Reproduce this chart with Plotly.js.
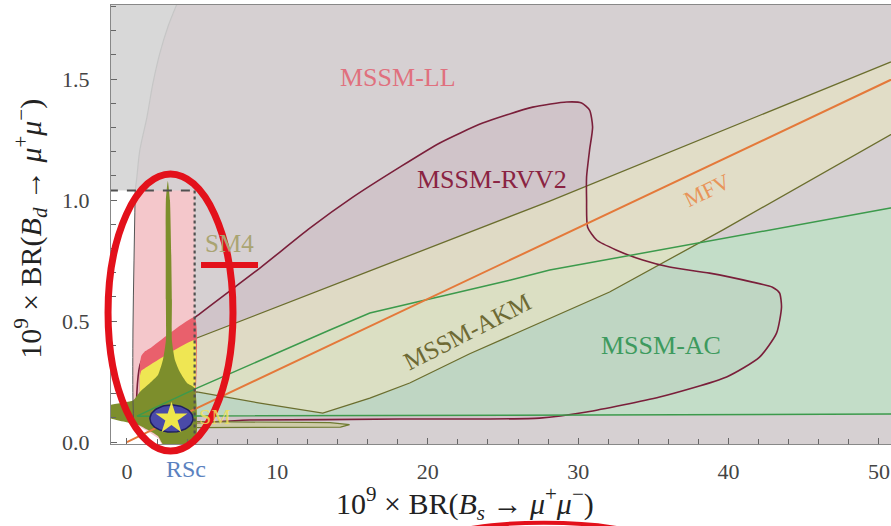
<!DOCTYPE html>
<html><head><meta charset="utf-8">
<script src="https://cdn.plot.ly/plotly-3.0.1.min.js"></script>
<style>body{margin:0;background:#fff}#plot{width:891px;height:526px}</style>
</head><body><div id="plot"></div>
<script>
// ---- data ----
// MSSM-LL boundary (left edge of the allowed LL region)
const llEdgeX = [3.39, 2.72, 2.19, 1.73, 1.33, 0.86, 0.66, 0.55, 0.47, 0.40, 0.40, 0.47, 0.50];
const llEdgeY = [1.82, 1.715, 1.607, 1.483, 1.343, 1.207, 1.095, 1.04, 0.752, 0.463, 0.174, 0.05, -0.02];
const llCornerX = [53, 53];
const llCornerY = [-0.02, 1.82];
// experimental bound box (BR_s < 4.5, BR_d < 1.04)
const boundX = [-1.2, 4.5, 4.5];
const boundY = [1.04, 1.04, -0.02];
const pinkX = [0.55, 4.5, 4.5, 0.40, 0.40, 0.47];
const pinkY = [1.04, 1.04, -0.02, -0.02, 0.463, 0.752];
const whiteX = [-1.2, -1.2, 0.55, 0.47, 0.40, 0.40, 0.8, 1.5, 2.1, 2.4];
const whiteY = [-0.02, 1.04, 1.04, 0.752, 0.463, 0.12, 0.065, 0.04, 0.015, -0.02];
// MSSM-RVV2
const rvv2X = [0.86,0.86,1.20,1.99,4.65,8.84,12.16,15.02,18.14,20.80,23.65,26.98,29.24,30.23,30.76,30.96,30.76,30.56,30.56,30.63,31.23,32.56,34.29,36.08,38.74,41.59,42.92,43.39,43.52,43.19,42.06,39.87,35.42,30.56,27.44,18.14,8.17,0.86];
const rvv2Y = [0.091,0.318,0.360,0.384,0.521,0.719,0.884,1.012,1.136,1.236,1.318,1.384,1.405,1.401,1.372,1.302,1.207,1.095,1.0,0.888,0.835,0.793,0.752,0.723,0.698,0.661,0.640,0.616,0.558,0.450,0.351,0.269,0.186,0.124,0.099,0.095,0.091,0.091];
// MSSM-AKM
const akmX = [0.86,1.0,1.33,4.65,16.15,28.11,50.76,53,53,50.76,39.60,32.09,22.79,18.80,16.15,13.02,8.84,4.65,0.86];
const akmY = [0.182,0.256,0.306,0.430,0.707,0.996,1.570,1.625,1.348,1.269,0.876,0.620,0.365,0.244,0.182,0.120,0.161,0.207,0.182];
// MSSM-AC
const acX = [0.66,4.65,13.49,16.15,25.45,28.11,50.76,53,53,0.66];
const acY = [0.107,0.223,0.463,0.533,0.669,0.711,0.967,0.992,0.116,0.107];
// MFV line
const mfvX = [0, 4.65, 50.76, 53];
const mfvY = [0, 0.140, 1.496, 1.56];
// parts inside the bound box
const redX = [0.86,0.86,0.95,1.2,1.6,4.5,4.5];
const redY = [0.09,0.32,0.355,0.375,0.39,0.515,0.09];
const yellowX = [0.86,0.86,0.95,1.2,4.5,4.5];
const yellowY = [0.18,0.27,0.295,0.305,0.42,0.18];
const sm4X = [2.72,2.86,2.99,2.99,3.19,3.52,3.99,4.5,4.5,2.52,2.06,1.40,0.73,-1.2,-1.2,0.40,0.86,1.53,2.06,2.39,2.59,2.59,2.59,2.72];
const sm4Y = [1.079,1.0,0.587,0.421,0.339,0.289,0.244,0.223,-0.02,-0.02,0.025,0.050,0.072,0.102,0.150,0.172,0.207,0.244,0.277,0.339,0.421,0.587,1.0,1.079];
const sm4TailX = [4.5,13.5,14.8,14.2,4.5];
const sm4TailY = [0.085,0.080,0.072,0.062,0.060];
// SM point and its error ellipse
const smCenter = [2.96, 0.097];
const smHalf = [1.43, 0.056];

// ---- traces ----
const F = 'Liberation Serif, DejaVu Serif, serif';
function poly(x, y, fill, line, extra) {
  return Object.assign({type:'scatter', mode: line ? 'lines' : 'none', x, y, fill:'toself', fillcolor:fill,
    line: line || {width:0}, hoverinfo:'skip', showlegend:false}, extra || {});
}
function lines(x, y, line) {
  return {type:'scatter', mode:'lines', x, y, line, hoverinfo:'skip', showlegend:false};
}
const llX = llEdgeX.concat(llCornerX), llY = llEdgeY.concat(llCornerY);
const ellX = [], ellY = [];
for (let i = 0; i <= 72; i++) { const t = i/72*2*Math.PI; ellX.push(smCenter[0]+smHalf[0]*Math.cos(t)); ellY.push(smCenter[1]+smHalf[1]*Math.sin(t)); }

const traces = [
  poly(llX, llY, '#d6d0d2'),
  poly(pinkX, pinkY, '#f4c7cb'),
  poly(whiteX, whiteY, '#ffffff'),
  poly(rvv2X, rvv2Y, 'rgba(140,40,80,0.07)', null, {line:{width:0, shape:'spline', smoothing:0.6}}),
  poly(acX, acY, 'rgba(165,242,185,0.39)'),
  poly(akmX, akmY, 'rgba(228,226,195,0.75)'),
  lines(akmX, akmY, {color:'#6b6e2e', width:1.3}),
  lines(rvv2X, rvv2Y, {color:'#7a1f3a', width:1.6, shape:'spline', smoothing:0.6}),
  poly(sm4TailX, sm4TailY, 'rgba(200,200,140,0.6)', {color:'#6e7a30', width:1.2}),
  poly(redX, redY, '#e9606c', null, {line:{width:0, shape:'spline', smoothing:0.4}}),
  poly(yellowX, yellowY, '#efe653', null, {line:{width:0, shape:'spline', smoothing:0.4}}),
  poly(sm4X, sm4Y, '#7d8e2c', null, {line:{width:0, shape:'spline', smoothing:0.5}}),
  lines(acX, acY, {color:'#3c9a4c', width:1.5}),
  lines(mfvX, mfvY, {color:'#e4793a', width:2}),
  lines(llEdgeX.slice(0,8), llEdgeY.slice(0,8), {color:'#c6c6c6', width:1.2, shape:'spline'}),
  lines(llEdgeX.slice(7,12), llEdgeY.slice(7,12), {color:'#555555', width:1, shape:'spline'}),
  lines(boundX.slice(0,2), boundY.slice(0,2), {color:'#505050', width:2, dash:'dash'}),
  lines(boundX.slice(1), boundY.slice(1), {color:'#505050', width:2.2, dash:'dot'}),
  poly(ellX, ellY, '#4a4aa8', {color:'#1e1e60', width:1.5}),
  {type:'scatter', mode:'markers', x:[smCenter[0]], y:[smCenter[1]], marker:{symbol:'star', size:24, color:'#eee64a', line:{width:0}}, hoverinfo:'skip', showlegend:false}
];

const ann = (text, x, y, size, color, extra) => Object.assign({text, x, y, xref:'x', yref:'y', xanchor:'center', yanchor:'middle', showarrow:false, font:{family:F, size, color}}, extra || {});
const annotations = [
  ann('MSSM-LL', 18.0, 1.508, 26, '#e0707e'),
  ann('MSSM-RVV2', 24.25, 1.083, 26, '#8a2342'),
  ann('MFV', 38.54, 1.041, 22, '#e8945a', {textangle:-26}),
  ann('MSSM-AKM', 22.66, 0.455, 25, '#6e6a34', {textangle:-27}),
  ann('MSSM-AC', 35.48, 0.401, 26, '#3d9a5e'),
  ann('SM4', 6.84, 0.822, 25, '#aaa472'),
  ann('SM', 5.85, 0.105, 22, 'rgba(240,225,90,0.85)'),
  {text:'RSc', x:3.92, y:-0.057, xref:'x', yref:'paper', xanchor:'center', yanchor:'middle', showarrow:false, font:{family:F, size:24, color:'#5b82c0'}},
  {text:'10<sup>9</sup> × BR(<i>B<sub>s</sub></i> → <i>μ</i><sup>+</sup><i>μ</i><sup>−</sup>)', x:0.454, y:-0.136, xref:'paper', yref:'paper', xanchor:'center', yanchor:'middle', showarrow:false, font:{family:F, size:30, color:'#222'}},
  {text:'10<sup>9</sup> × BR(<i>B<sub>d</sub></i> → <i>μ</i><sup>+</sup><i>μ</i><sup>−</sup>)', x:-0.1026, y:0.49, xref:'paper', yref:'paper', xanchor:'center', yanchor:'middle', textangle:-90, showarrow:false, font:{family:F, size:30, color:'#222'}}
];

const shapes = [
  {type:'circle', xref:'paper', yref:'paper', x0:-0.0038, x1:0.1564, y0:-0.016, y1:0.615, line:{color:'#e3111b', width:7}, layer:'above'},
  {type:'line', xref:'paper', yref:'paper', x0:0.1154, x1:0.1885, y0:0.4077, y1:0.4077, line:{color:'#e3111b', width:6}, layer:'above'},
  {type:'circle', xref:'paper', yref:'paper', x0:0.43, x1:0.68, y0:-0.2505, y1:-0.1795, line:{color:'#e3111b', width:4}, layer:'above'}
];

const axBase = {showgrid:false, zeroline:false, showline:true, linecolor:'#888', linewidth:1, mirror:true,
  ticks:'inside', ticklen:6, tickcolor:'#666', tickfont:{family:F, size:22, color:'#444'}};
const layout = {
  width:891, height:526, margin:{l:111, r:0, t:5, b:82},
  paper_bgcolor:'#ffffff', plot_bgcolor:'#d8d8d8',
  xaxis: Object.assign({}, axBase, {range:[-1.06, 50.8], tick0:0, dtick:10, ticklabelstandoff:8,
    minor:{dtick:2, ticks:'inside', ticklen:5, tickcolor:'#666'}}),
  yaxis: Object.assign({}, axBase, {range:[-0.008, 1.806], tick0:0, dtick:0.5, tickformat:'.1f', ticklabelstandoff:16,
    minor:{dtick:0.1, ticks:'inside', ticklen:5, tickcolor:'#666'}}),
  annotations, shapes
};
Plotly.newPlot('plot', traces, layout, {displayModeBar:false, staticPlot:true});
</script></body></html>
